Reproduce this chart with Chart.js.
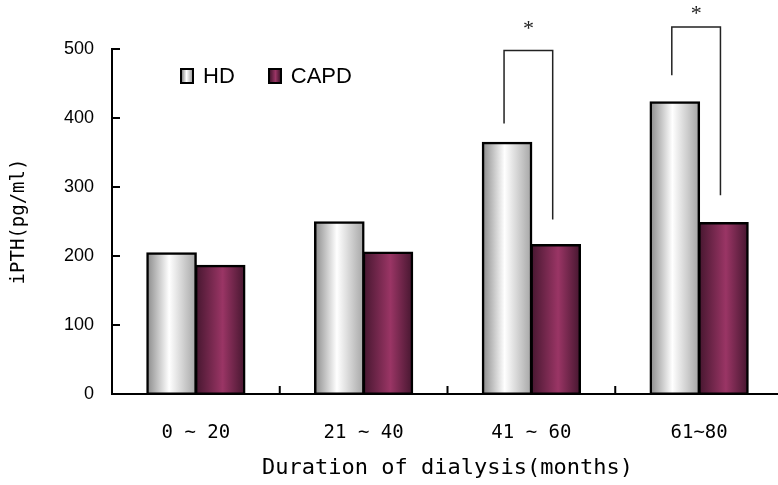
<!DOCTYPE html>
<html>
<head>
<meta charset="utf-8">
<script src="https://cdn.jsdelivr.net/npm/chart.js@4.4.0/dist/chart.umd.min.js"></script>
<style>
    html, body { margin: 0; padding: 0; background: #fff; overflow: hidden; }
    #wrap { position: relative; width: 783px; height: 485px; }
    #legend {
        position: absolute; left: 180px; top: 65px; display: flex;
        font-family: 'Liberation Sans', Arial, sans-serif; font-size: 22px; line-height: 22px; color: #000;
    }
    .item { display: flex; align-items: center; margin-right: 33px; }
    .box { width: 10px; height: 12px; border: 2px solid #000; margin-right: 9px; }
</style>
</head>
<body>
<div id="wrap">
    <canvas id="chart" width="783" height="485"></canvas>
    <div id="legend"></div>
</div>
<script>
const categories = ['0 ~ 20', '21 ~ 40', '41 ~ 60', '61~80'];
const hdValues = [204, 249, 364, 423];
const capdValues = [186, 205, 216, 248];
const yTicks = [0, 100, 200, 300, 400, 500];

// significance brackets (values in pg/ml)
const sigIndex = [2, 3];
const sigTop = [498, 532];
const sigLeftEnd = [392, 462];
const sigRightEnd = [253, 288];
const sigStar = [531, 552];

// horizontal shading of each bar, like the old excel cylinders
const barShade = {
    id: 'barShade',
    beforeDatasetsDraw(chart) {
        const c = chart.ctx;
        chart.data.datasets.forEach((ds, i) => {
            chart.getDatasetMeta(i).data.forEach(bar => {
                const { x, width } = bar.getProps(['x', 'width'], true);
                const g = c.createLinearGradient(x - width / 2, 0, x + width / 2, 0);
                ds.shade.forEach(s => g.addColorStop(s[0], s[1]));
                bar.options = Object.assign({}, bar.options, { backgroundColor: g });
            });
        });
    }
};

// tick marks pointing into the plot (chart.js only draws them outwards)
const innerTicks = {
    id: 'innerTicks',
    afterDatasetsDraw(chart) {
        const c = chart.ctx;
        const { x, y } = chart.scales;
        const area = chart.chartArea;
        c.save();
        c.strokeStyle = '#000';
        c.lineWidth = 2;
        c.beginPath();
        yTicks.forEach(v => {
            const py = y.getPixelForValue(v);
            c.moveTo(area.left, py);
            c.lineTo(area.left + 8, py);
        });
        const step = x.getPixelForValue(1) - x.getPixelForValue(0);
        for (let i = 1; i < categories.length; i++) {
            const px = x.getPixelForValue(i) - step / 2;
            c.moveTo(px, area.bottom);
            c.lineTo(px, area.bottom - 8);
        }
        c.stroke();
        c.restore();
    }
};

const sigMarks = {
    id: 'sigMarks',
    afterDraw(chart) {
        const c = chart.ctx;
        const y = chart.scales.y;
        const hd = chart.getDatasetMeta(0).data;
        const capd = chart.getDatasetMeta(1).data;
        c.save();
        c.strokeStyle = '#222';
        c.fillStyle = '#222';
        c.lineWidth = 1.5;
        c.font = '22px "Liberation Serif"';
        c.textAlign = 'center';
        sigIndex.forEach((k, j) => {
            const x1 = hd[k].x - 3;
            const x2 = capd[k].x - 3;
            const yt = y.getPixelForValue(sigTop[j]);
            c.beginPath();
            c.moveTo(x1, y.getPixelForValue(sigLeftEnd[j]));
            c.lineTo(x1, yt);
            c.lineTo(x2, yt);
            c.lineTo(x2, y.getPixelForValue(sigRightEnd[j]));
            c.stroke();
            c.fillText('*', (x1 + x2) / 2, y.getPixelForValue(sigStar[j]) + 7);
        });
        c.restore();
    }
};

const chart = new Chart(document.getElementById('chart'), {
    type: 'bar',
    data: {
        labels: categories,
        datasets: [
            {
                label: 'HD',
                data: hdValues,
                backgroundColor: '#dddddd',
                shade: [[0, '#8c8c8c'], [0.45, '#ffffff'], [1, '#a6a6a6']]
            },
            {
                label: 'CAPD',
                data: capdValues,
                backgroundColor: '#8a2e5a',
                shade: [[0, '#471730'], [0.55, '#9a3565'], [1, '#471730']]
            }
        ]
    },
    options: {
        responsive: false,
        animation: false,
        layout: { padding: { top: 49, left: 0, right: 0, bottom: 0 } },
        datasets: {
            bar: {
                categoryPercentage: 0.58,
                barPercentage: 1,
                borderColor: '#000',
                borderWidth: 2.5,
                borderSkipped: false,
                inflateAmount: 1
            }
        },
        plugins: {
            legend: { display: false },
            tooltip: { enabled: false }
        },
        scales: {
            x: {
                grid: { display: false },
                border: { color: '#000', width: 2 },
                ticks: { color: '#000', font: { family: 'DejaVu Sans Mono', size: 19 }, padding: 20 },
                title: {
                    display: true,
                    text: 'Duration of dialysis(months)',
                    color: '#000',
                    font: { family: 'DejaVu Sans Mono', size: 22 },
                    padding: { top: 0, bottom: 4 }
                },
                afterFit: s => { s.height = 91; }
            },
            y: {
                min: 0,
                max: 500,
                afterBuildTicks: s => { s.ticks = yTicks.map(v => ({ value: v })); },
                grid: { display: false },
                border: { color: '#000', width: 2 },
                ticks: { color: '#000', font: { family: 'Liberation Sans', size: 18 }, padding: 10 },
                title: {
                    display: true,
                    text: 'iPTH(pg/ml)',
                    color: '#000',
                    font: { family: 'DejaVu Sans Mono', size: 19 },
                    padding: { top: 8, bottom: 0 }
                },
                afterFit: s => { s.width = 112; }
            }
        }
    },
    plugins: [barShade, innerTicks, sigMarks]
});

// html legend with the same shading as the bars
const legendEl = document.getElementById('legend');
chart.data.datasets.forEach(ds => {
    const stops = ds.shade.map(s => s[1] + ' ' + (s[0] * 100) + '%').join(', ');
    const item = document.createElement('div');
    item.className = 'item';
    item.innerHTML = '<span class="box" style="background: linear-gradient(to right, ' + stops + ')"></span>' + ds.label;
    legendEl.appendChild(item);
});
</script>
</body>
</html>
